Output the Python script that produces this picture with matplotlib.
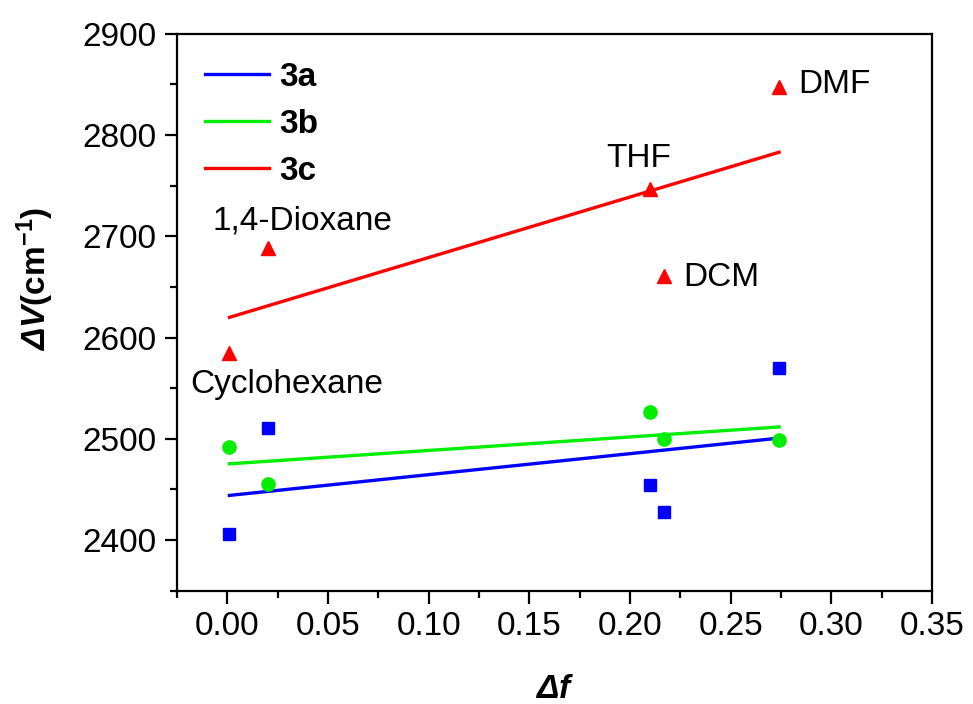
import matplotlib
matplotlib.use('Agg')
import matplotlib.pyplot as plt
import numpy as np
from matplotlib.ticker import MultipleLocator

plt.rcParams['font.family'] = ['Liberation Sans', 'DejaVu Sans']
plt.rcParams['mathtext.fontset'] = 'custom'
plt.rcParams['mathtext.rm'] = 'Liberation Sans'
plt.rcParams['mathtext.bf'] = 'Liberation Sans:bold'
plt.rcParams['mathtext.it'] = 'Liberation Sans:italic'
plt.rcParams['mathtext.bfit'] = 'Liberation Sans:bold:italic'

# Solvent polarity function (same for all three compounds)
delta_f = [0.001, 0.020, 0.210, 0.217, 0.274]
solvents = ['Cyclohexane', '1,4-Dioxane', 'THF', 'DCM', 'DMF']

# Stokes shifts (cm-1)
shift_3a = [2406, 2511, 2454, 2428, 2570]
shift_3b = [2492, 2455, 2526, 2500, 2499]
shift_3c = [2585, 2688, 2747, 2661, 2847]

series = [
    ('3a', shift_3a, '#0000ff', 's', 9),
    ('3b', shift_3b, '#00ee00', 'o', 9.5),
    ('3c', shift_3c, '#ff0000', '^', 9.5),
]

fig = plt.figure(figsize=(9.73, 7.04), dpi=100)
ax = fig.add_axes([0.182, 0.161, 0.776, 0.791])

x = np.array(delta_f)
handles = []
for name, y, color, marker, ms in series:
    ax.plot(x, y, linestyle='none', marker=marker, color=color, markersize=ms)
    # linear fit through the points, drawn across the data range
    k, b = np.polyfit(x, y, 1)
    line, = ax.plot(x[[0, -1]], k * x[[0, -1]] + b, color=color, lw=2.4, label=name)
    handles.append(line)

# Solvent annotations next to the 3c points (offsets in points)
offsets = {
    'Cyclohexane': (-28, -23),
    '1,4-Dioxane': (-39.5, 19.5),
    'THF': (-32, 21.5),
    'DCM': (13.5, -1.5),
    'DMF': (13.5, 2),
}
for s, xv, yv in zip(solvents, delta_f, shift_3c):
    dx, dy = offsets[s]
    ax.annotate(s, (xv, yv), xytext=(dx, dy), textcoords='offset points',
                fontsize=24, ha='left', va='center')

ax.set_xlim(-0.025, 0.35)
ax.set_ylim(2350, 2900)
ax.xaxis.set_minor_locator(MultipleLocator(0.025))
ax.yaxis.set_minor_locator(MultipleLocator(50))
xt = np.arange(0, 0.351, 0.05)
ax.set_xticks(xt)
ax.set_xticklabels(['%.2f' % v for v in xt])
ax.set_yticks(np.arange(2400, 2901, 100))

ax.tick_params(which='both', direction='out', top=False, right=False, width=1.6,
               labelsize=24)
ax.tick_params(which='major', length=9, pad=6)
ax.tick_params(which='minor', length=5)
for sp in ax.spines.values():
    sp.set_linewidth(1.6)

ax.set_xlabel(r'$\mathbfit{\Delta f}$', fontsize=24, labelpad=23)
ax.set_ylabel(r'$\mathbfit{\Delta V}\mathbf{(cm^{-1})}$', fontsize=24)
ax.yaxis.set_label_coords(-0.16, 0.56)

ax.legend(handles=handles, loc='upper left', frameon=False,
          prop={'weight': 'bold', 'size': 24}, handlelength=1.9,
          handletextpad=0.3, labelspacing=0.48, bbox_to_anchor=(0.0, 1.0),
          borderaxespad=0.45)

fig.savefig('out.png', dpi=100)
